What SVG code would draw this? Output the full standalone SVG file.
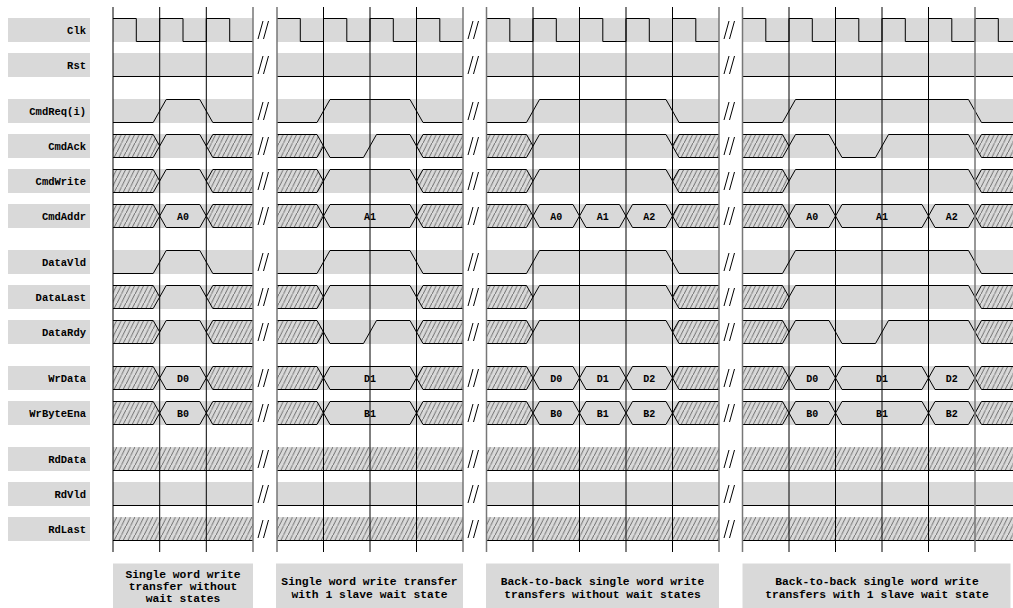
<svg xmlns="http://www.w3.org/2000/svg" xmlns:xlink="http://www.w3.org/1999/xlink" width="1013" height="608" viewBox="0 0 1013 608">
<style>
.band{fill:#d9d9d9}
.x{fill:url(#hatch)}
.w{fill:none;stroke:#000;stroke-width:1}
.hex{fill:#d9d9d9;stroke:#000;stroke-width:1}
.lbl{font-family:"Liberation Mono","DejaVu Sans Mono",monospace;font-weight:bold;font-size:10.5px;text-anchor:end;fill:#000}
.val{font-family:"Liberation Mono","DejaVu Sans Mono",monospace;font-weight:bold;font-size:10px;text-anchor:middle;fill:#000}
.cap{font-family:"Liberation Mono","DejaVu Sans Mono",monospace;font-weight:bold;font-size:11.3px;text-anchor:middle;fill:#000}
.grid{stroke:#000;stroke-width:1}
.brkl{stroke:#777;stroke-width:1.5}
.sl{stroke:#000;stroke-width:1}
</style>
<defs>
<pattern id="hatch" patternUnits="userSpaceOnUse" width="4.5" height="9">
<rect width="4.5" height="9" fill="#d9d9d9"/>
<path d="M-1,11 L5.5,-2" stroke="#444" stroke-width="0.75"/>
</pattern>
<g id="bands">
<rect class="band" x="8" y="0" width="82" height="24"/>
<rect class="band" x="113" y="0" width="140" height="24"/>
<rect class="band" x="277" y="0" width="186" height="24"/>
<rect class="band" x="486.5" y="0" width="232.5" height="24"/>
<rect class="band" x="742.5" y="0" width="270.5" height="24"/>
</g>
<g id="slashes">
<path class="sl" d="M258,21 L263,3 M263.5,21 L268.5,3 M468,21 L473,3 M473.5,21 L478.5,3 M724,21 L729,3 M729.5,21 L734.5,3"/>
</g>
<g id="xr">
<polygon class="x" points="113,0.5 153.2,0.5 159.7,12 153.2,23.5 113,23.5"/>
<polygon class="x" points="206.3,12 212.8,0.5 253,0.5 253,23.5 212.8,23.5"/>
<polygon class="x" points="277,0.5 317,0.5 323.5,12 317,23.5 277,23.5"/>
<polygon class="x" points="416.5,12 423,0.5 463,0.5 463,23.5 423,23.5"/>
<polygon class="x" points="486.5,0.5 526.5,0.5 533,12 526.5,23.5 486.5,23.5"/>
<polygon class="x" points="672.5,12 679,0.5 719,0.5 719,23.5 679,23.5"/>
<polygon class="x" points="742.5,0.5 782.5,0.5 789,12 782.5,23.5 742.5,23.5"/>
<polygon class="x" points="975,12 981.5,0.5 1013,0.5 1013,23.5 981.5,23.5"/>
<path class="w" d="M113,0.5 H153.2 L159.7,12 L153.2,23.5 H113 M253,0.5 H212.8 L206.3,12 L212.8,23.5 H253 M277,0.5 H317 L323.5,12 L317,23.5 H277 M463,0.5 H423 L416.5,12 L423,23.5 H463 M486.5,0.5 H526.5 L533,12 L526.5,23.5 H486.5 M719,0.5 H679 L672.5,12 L679,23.5 H719 M742.5,0.5 H782.5 L789,12 L782.5,23.5 H742.5 M1013,0.5 H981.5 L975,12 L981.5,23.5 H1013"/>
</g>
<g id="hexes">
<polygon class="hex" points="159.7,12 166.2,0.5 199.8,0.5 206.3,12 199.8,23.5 166.2,23.5"/>
<polygon class="hex" points="323.5,12 330,0.5 410,0.5 416.5,12 410,23.5 330,23.5"/>
<polygon class="hex" points="533,12 539.5,0.5 573,0.5 579.5,12 573,23.5 539.5,23.5"/>
<polygon class="hex" points="579.5,12 586,0.5 619.5,0.5 626,12 619.5,23.5 586,23.5"/>
<polygon class="hex" points="626,12 632.5,0.5 666,0.5 672.5,12 666,23.5 632.5,23.5"/>
<polygon class="hex" points="789,12 795.5,0.5 829,0.5 835.5,12 829,23.5 795.5,23.5"/>
<polygon class="hex" points="835.5,12 842,0.5 922,0.5 928.5,12 922,23.5 842,23.5"/>
<polygon class="hex" points="928.5,12 935,0.5 968.5,0.5 975,12 968.5,23.5 935,23.5"/>
</g>
<path id="req" class="w" d="M113,23.5 H153.2 L166.2,0.5 H199.8 L212.8,23.5 H253 M277,23.5 H317 L330,0.5 H410 L423,23.5 H463 M486.5,23.5 H526.5 L539.5,0.5 H666 L679,23.5 H719 M742.5,23.5 H782.5 L795.5,0.5 H968.5 L981.5,23.5 H1013"/>
<path id="ack" class="w" d="M159.7,12 L166.2,0.5 H199.8 L206.3,12 M323.5,12 L330,23.5 H363.5 L376.5,0.5 H410 L416.5,12 M533,12 L539.5,0.5 H666 L672.5,12 M789,12 L795.5,0.5 H829 L842,23.5 H875.5 L888.5,0.5 H968.5 L975,12"/>
<path id="wr" class="w" d="M159.7,12 L166.2,0.5 H199.8 L206.3,12 M323.5,12 L330,0.5 H410 L416.5,12 M533,12 L539.5,0.5 H666 L672.5,12 M789,12 L795.5,0.5 H968.5 L975,12"/>
<path id="low" class="w" d="M113,23.5 H253 M277,23.5 H463 M486.5,23.5 H719 M742.5,23.5 H1013"/>
<g id="xfull">
<rect class="x" x="113" y="0" width="140" height="24"/>
<rect class="x" x="277" y="0" width="186" height="24"/>
<rect class="x" x="486.5" y="0" width="232.5" height="24"/>
<rect class="x" x="742.5" y="0" width="270.5" height="24"/>
<use xlink:href="#low"/>
</g>
</defs>

<g id="sig-clk" transform="translate(0,18)">
<use xlink:href="#bands"/><use xlink:href="#slashes"/>
<path class="w" d="M113,0.5 H136.3 V23.5 H159.7 V0.5 H183 V23.5 H206.3 V0.5 H229.7 V23.5 H253 M277,0.5 H300.3 V23.5 H323.5 V0.5 H346.8 V23.5 H370 V0.5 H393.3 V23.5 H416.5 V0.5 H439.8 V23.5 H463 M486.5,0.5 H509.8 V23.5 H533 V0.5 H556.3 V23.5 H579.5 V0.5 H602.8 V23.5 H626 V0.5 H649.3 V23.5 H672.5 V0.5 H695.8 V23.5 H719 M742.5,0.5 H765.8 V23.5 H789 V0.5 H812.3 V23.5 H835.5 V0.5 H858.8 V23.5 H882 V0.5 H905.3 V23.5 H928.5 V0.5 H951.8 V23.5 H975 V0.5 H998.3 V23.5 H1013"/>
<text class="lbl" x="86" y="15.5">Clk</text>
</g>
<g id="sig-rst" transform="translate(0,53)">
<use xlink:href="#bands"/><use xlink:href="#slashes"/><use xlink:href="#low"/>
<text class="lbl" x="86" y="15.5">Rst</text>
</g>
<g id="sig-cmdreq" transform="translate(0,99)">
<use xlink:href="#bands"/><use xlink:href="#slashes"/><use xlink:href="#req"/>
<text class="lbl" x="86" y="15.5">CmdReq(i)</text>
</g>
<g id="sig-cmdack" transform="translate(0,134)">
<use xlink:href="#bands"/><use xlink:href="#slashes"/><use xlink:href="#xr"/><use xlink:href="#ack"/>
<text class="lbl" x="86" y="15.5">CmdAck</text>
</g>
<g id="sig-cmdwrite" transform="translate(0,169)">
<use xlink:href="#bands"/><use xlink:href="#slashes"/><use xlink:href="#xr"/><use xlink:href="#wr"/>
<text class="lbl" x="86" y="15.5">CmdWrite</text>
</g>
<g id="sig-cmdaddr" transform="translate(0,204)">
<use xlink:href="#bands"/><use xlink:href="#slashes"/><use xlink:href="#xr"/><use xlink:href="#hexes"/>
<text class="lbl" x="86" y="15.5">CmdAddr</text>
<text class="val" x="183" y="15.5">A0</text>
<text class="val" x="370" y="15.5">A1</text>
<text class="val" x="556.3" y="15.5">A0</text>
<text class="val" x="602.8" y="15.5">A1</text>
<text class="val" x="649.3" y="15.5">A2</text>
<text class="val" x="812.3" y="15.5">A0</text>
<text class="val" x="882" y="15.5">A1</text>
<text class="val" x="951.8" y="15.5">A2</text>
</g>
<g id="sig-datavld" transform="translate(0,250)">
<use xlink:href="#bands"/><use xlink:href="#slashes"/><use xlink:href="#req"/>
<text class="lbl" x="86" y="15.5">DataVld</text>
</g>
<g id="sig-datalast" transform="translate(0,285)">
<use xlink:href="#bands"/><use xlink:href="#slashes"/><use xlink:href="#xr"/><use xlink:href="#wr"/>
<text class="lbl" x="86" y="15.5">DataLast</text>
</g>
<g id="sig-datardy" transform="translate(0,320)">
<use xlink:href="#bands"/><use xlink:href="#slashes"/><use xlink:href="#xr"/><use xlink:href="#ack"/>
<text class="lbl" x="86" y="15.5">DataRdy</text>
</g>
<g id="sig-wrdata" transform="translate(0,366)">
<use xlink:href="#bands"/><use xlink:href="#slashes"/><use xlink:href="#xr"/><use xlink:href="#hexes"/>
<text class="lbl" x="86" y="15.5">WrData</text>
<text class="val" x="183" y="15.5">D0</text>
<text class="val" x="370" y="15.5">D1</text>
<text class="val" x="556.3" y="15.5">D0</text>
<text class="val" x="602.8" y="15.5">D1</text>
<text class="val" x="649.3" y="15.5">D2</text>
<text class="val" x="812.3" y="15.5">D0</text>
<text class="val" x="882" y="15.5">D1</text>
<text class="val" x="951.8" y="15.5">D2</text>
</g>
<g id="sig-wrbyteena" transform="translate(0,401)">
<use xlink:href="#bands"/><use xlink:href="#slashes"/><use xlink:href="#xr"/><use xlink:href="#hexes"/>
<text class="lbl" x="86" y="15.5">WrByteEna</text>
<text class="val" x="183" y="15.5">B0</text>
<text class="val" x="370" y="15.5">B1</text>
<text class="val" x="556.3" y="15.5">B0</text>
<text class="val" x="602.8" y="15.5">B1</text>
<text class="val" x="649.3" y="15.5">B2</text>
<text class="val" x="812.3" y="15.5">B0</text>
<text class="val" x="882" y="15.5">B1</text>
<text class="val" x="951.8" y="15.5">B2</text>
</g>
<g id="sig-rddata" transform="translate(0,447)">
<use xlink:href="#bands"/><use xlink:href="#slashes"/><use xlink:href="#xfull"/>
<text class="lbl" x="86" y="15.5">RdData</text>
</g>
<g id="sig-rdvld" transform="translate(0,482)">
<use xlink:href="#bands"/><use xlink:href="#slashes"/><use xlink:href="#low"/>
<text class="lbl" x="86" y="15.5">RdVld</text>
</g>
<g id="sig-rdlast" transform="translate(0,517)">
<use xlink:href="#bands"/><use xlink:href="#slashes"/><use xlink:href="#xfull"/>
<text class="lbl" x="86" y="15.5">RdLast</text>
</g>

<g id="grid">
<path class="grid" d="M113,7 V552 M159.7,7 V552 M206.3,7 V552 M323.5,7 V552 M370,7 V552 M416.5,7 V552 M533,7 V552 M579.5,7 V552 M626,7 V552 M672.5,7 V552 M789,7 V552 M835.5,7 V552 M882,7 V552 M928.5,7 V552"/>
<path class="brkl" d="M253,7 V552 M277,7 V552 M463,7 V552 M486.5,7 V552 M719,7 V552 M742.5,7 V552 M975,7 V552"/>
</g>

<g id="captions">
<rect class="band" x="113" y="563.5" width="140" height="44.5"/>
<text class="cap" x="183" y="577.5">Single word write</text>
<text class="cap" x="183" y="589.5">transfer without</text>
<text class="cap" x="183" y="601.5">wait states</text>
<rect class="band" x="276" y="563.5" width="187" height="44.5"/>
<text class="cap" x="369.5" y="585">Single word write transfer</text>
<text class="cap" x="369.5" y="598">with 1 slave wait state</text>
<rect class="band" x="486" y="563.5" width="233" height="44.5"/>
<text class="cap" x="602.5" y="585">Back-to-back single word write</text>
<text class="cap" x="602.5" y="598">transfers without wait states</text>
<rect class="band" x="742.5" y="563.5" width="268" height="44.5"/>
<text class="cap" x="877" y="585">Back-to-back single word write</text>
<text class="cap" x="877" y="598">transfers with 1 slave wait state</text>
</g>
</svg>
